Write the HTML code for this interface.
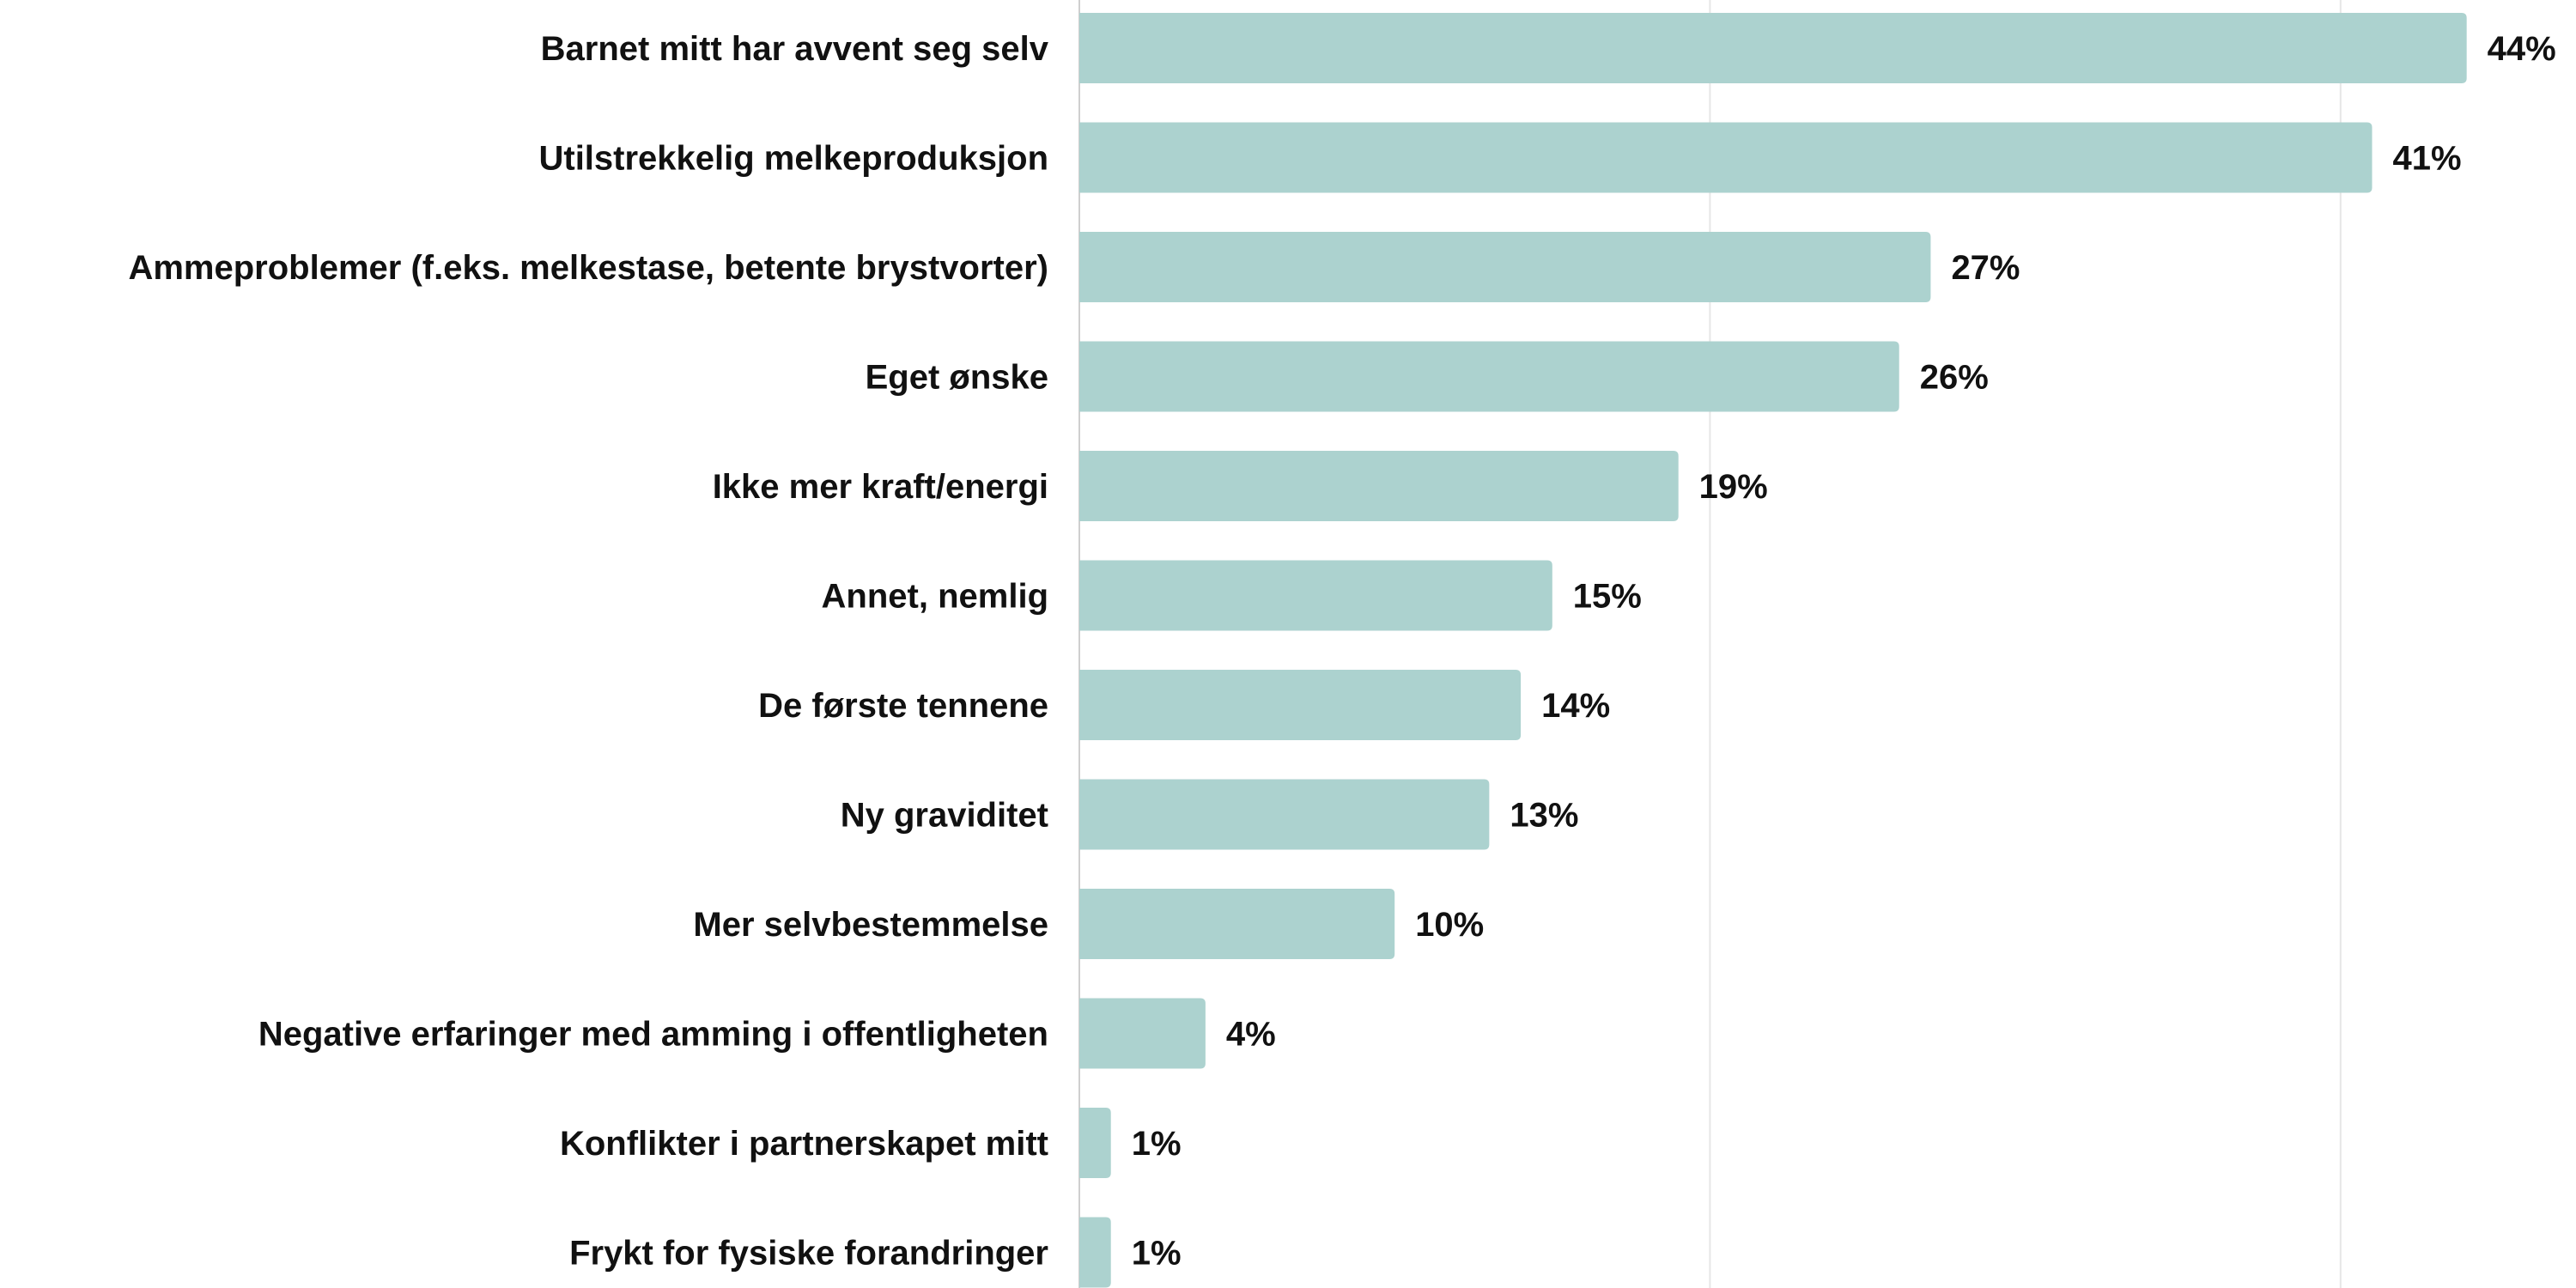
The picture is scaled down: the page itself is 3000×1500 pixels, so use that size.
<!DOCTYPE html>
<html><head><meta charset="utf-8"><style>
html,body{margin:0;padding:0;background:#fff;}
svg{display:block;font-family:"Liberation Sans",sans-serif;font-weight:bold;}
</style></head><body>
<svg id="chart" width="3000" height="1500" viewBox="0 0 3000 1500"></svg>
<script>
const categories=["Barnet mitt har avvent seg selv","Utilstrekkelig melkeproduksjon","Ammeproblemer (f.eks. melkestase, betente brystvorter)","Eget ønske","Ikke mer kraft/energi","Annet, nemlig","De første tennene","Ny graviditet","Mer selvbestemmelse","Negative erfaringer med amming i offentligheten","Konflikter i partnerskapet mitt","Frykt for fysiske forandringer"];
const values=[44,41,27,26,19,15,14,13,10,4,1,1];
const gridTicks=[0,20,40];
const NS="http://www.w3.org/2000/svg";
const svg=document.getElementById('chart');
const x0=1257, pxPer=36.72;
const xs=v=>x0+v*pxPer;
const top0=15, pitch=127.5, bh=82;
const ys=i=>top0+i*pitch;
function mk(t,a){const e=document.createElementNS(NS,t);for(const k in a)e.setAttribute(k,a[k]);svg.appendChild(e);return e;}
gridTicks.forEach(t=>{
  const l=mk('line',{x1:xs(t),x2:xs(t),y1:0,y2:1500,stroke:t===0?'#cfcfcf':'#e6e6e6','stroke-width':2});
  
  
});
categories.forEach((c,i)=>{
  const y=ys(i), w=xs(values[i])-x0, r=6;
  const p=mk('path',{d:`M${x0},${y}H${x0+w-r}Q${x0+w},${y} ${x0+w},${y+r}V${y+bh-r}Q${x0+w},${y+bh} ${x0+w-r},${y+bh}H${x0}Z`,fill:'#acd2cf'});
  
  
  const lab=mk('text',{x:1221,y:y+bh/2+14,'text-anchor':'end','font-size':40,fill:'#111'});
  lab.textContent=c;
  
  
  const v=mk('text',{x:x0+w+24,y:y+bh/2+14,'font-size':40,fill:'#111'});
  v.textContent=values[i]+'%';
  
  
});
</script>
</body></html>
